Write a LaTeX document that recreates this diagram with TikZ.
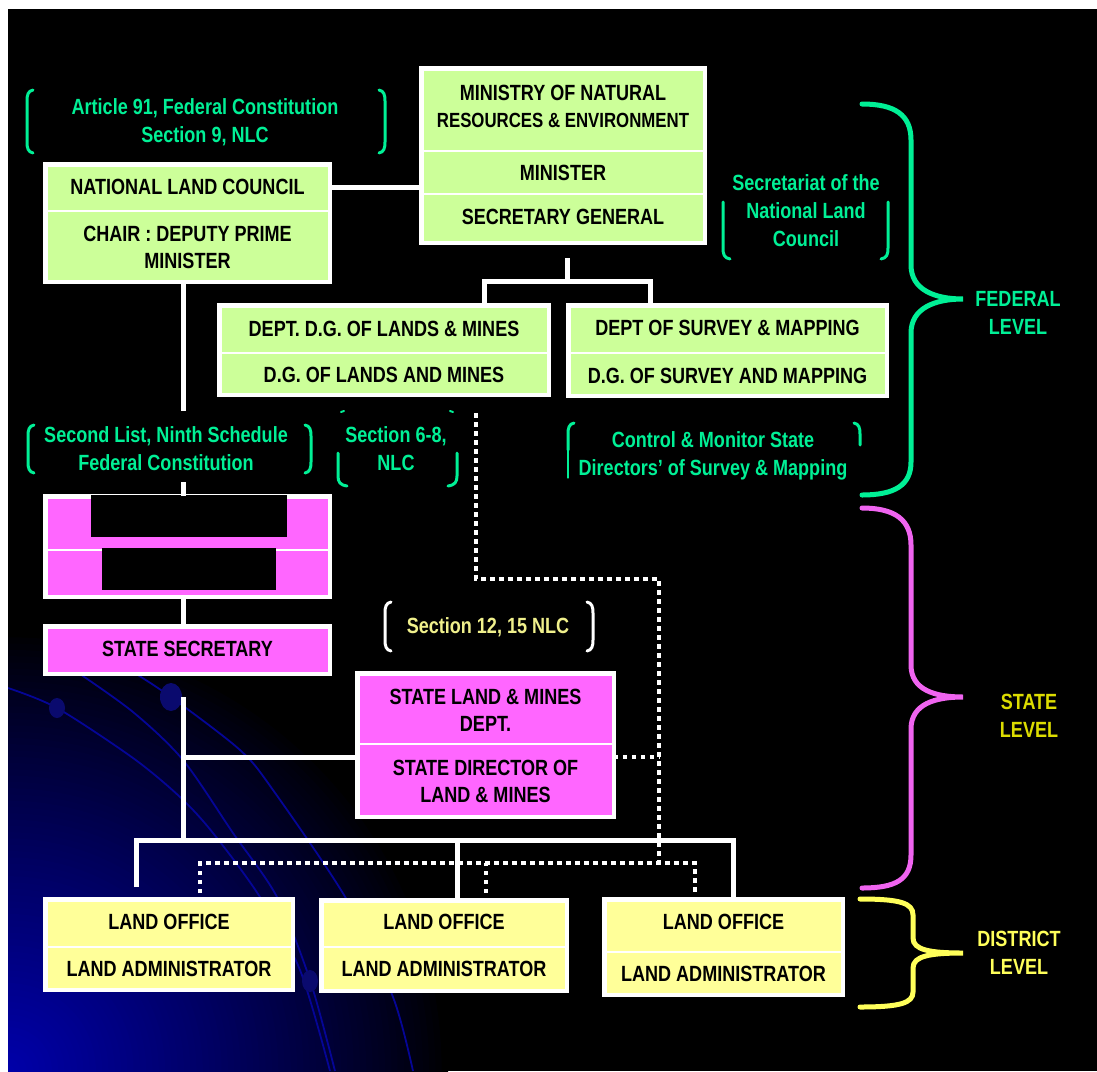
\documentclass[tikz,border=0pt]{standalone}
\usepackage{fontspec}
\newfontfamily\nar[FakeStretch=0.82]{Liberation Sans}
\definecolor{gfill}{RGB}{204,255,153}
\definecolor{pfill}{RGB}{255,102,255}
\definecolor{yfill}{RGB}{255,255,153}
\definecolor{grn}{RGB}{0,240,150}
\definecolor{pinkb}{RGB}{240,100,240}
\definecolor{styel}{RGB}{220,220,0}
\definecolor{dyel}{RGB}{255,255,90}
\definecolor{paley}{RGB}{240,240,140}
\definecolor{bA}{RGB}{0,0,170}
\definecolor{bline}{RGB}{5,5,150}
\definecolor{bdot}{RGB}{10,10,110}
\newcommand\lbrk[4]{\draw[brk,draw=#1] ({#2+6},#3) .. controls ({#2+1},{#3+1}) and (#2,{#3+5}) .. (#2,{#3+11}) -- (#2,{#4-11}) .. controls (#2,{#4-5}) and ({#2+1},{#4-1}) .. ({#2+6},#4);}
\newcommand\rbrk[4]{\draw[brk,draw=#1] ({#2-6},#3) .. controls ({#2-1},{#3+1}) and (#2,{#3+5}) .. (#2,{#3+11}) -- (#2,{#4-11}) .. controls (#2,{#4-5}) and ({#2-1},{#4-1}) .. ({#2-6},#4);}
\begin{document}
\begin{tikzpicture}[x=1pt,y=-1pt,
 box/.style={draw=white,line width=4.5pt,inner sep=0pt,outer sep=0pt},
 div/.style={draw=white,line width=2pt},
 txt/.style={font=\nar\bfseries\fontsize{22}{27}\selectfont,align=center,inner sep=0pt,text=black},
 lab/.style={font=\nar\bfseries\fontsize{22}{28}\selectfont,align=center,inner sep=0pt},
 conn/.style={draw=white,line width=5pt},
 dotc/.style={draw=white,line width=4pt,dash pattern=on 4.5pt off 4.5pt},
 brk/.style={line width=3pt,line cap=round},
 brace/.style={line width=5pt,line cap=round},
 bcurve/.style={draw=bline,line width=1.8pt}]
\useasboundingbox (0,0) rectangle (1097,1071);
\fill[white] (0,0) rectangle (1097,1071);
\fill[black] (8,9) rectangle (1097,1071);
% background decoration
\begin{scope}
\clip (8,9) rectangle (1097,1071);
\foreach \i in {0,...,69} {
  \pgfmathsetmacro\rr{440*(1-\i/70)}
  \pgfmathsetmacro\pp{100*(\i/70)^0.85}
  \fill[bA!\pp!black] (8,1071) circle[radius=\rr];
}
\draw[bcurve] plot[smooth] coordinates {(8,688) (57,708) (133,758) (180,797) (213,833) (260,897) (300,970) (330,1071)};
\draw[bcurve] plot[smooth] coordinates {(77,672) (133,712) (183,760) (233,833) (277,897) (310,980) (335,1071)};
\draw[bcurve] plot[smooth] coordinates {(133,672) (171,697) (240,750) (273,790) (347,900) (393,997) (413,1071)};
\fill[bdot] (57,708) ellipse[x radius=8,y radius=10];
\fill[bdot] (171,697) ellipse[x radius=11,y radius=14];
\fill[bdot] (310,981) ellipse[x radius=8,y radius=11];
\end{scope}
% boxes
\node[box,fill=gfill,minimum width=284.5pt,minimum height=117.5pt] (nlc) at (187.5,223) {};
\node[box,fill=gfill,minimum width=283.5pt,minimum height=174.5pt] (min) at (563,155.5) {};
\node[box,fill=gfill,minimum width=329.5pt,minimum height=89.5pt] (dlm) at (384,350) {};
\node[box,fill=gfill,minimum width=318.5pt,minimum height=90.5pt] (dsm) at (727.5,350.5) {};
\node[box,fill=pfill,minimum width=284.5pt,minimum height=100.5pt] (sa) at (187.5,546.5) {};
\node[box,fill=pfill,minimum width=284.5pt,minimum height=47.5pt] (ss) at (187.5,650) {};
\node[box,fill=pfill,minimum width=256.5pt,minimum height=143.5pt] (slm) at (485.5,745) {};
\node[box,fill=yfill,minimum width=247.5pt,minimum height=90.5pt] (lo1) at (169,944.5) {};
\node[box,fill=yfill,minimum width=245.5pt,minimum height=90.5pt] (lo2) at (444,945.5) {};
\node[box,fill=yfill,minimum width=238.5pt,minimum height=95.5pt] (lo3) at (723.5,947) {};
% dividers
\draw[div] (nlc.west |- 0,211) -- (nlc.east |- 0,211);
\draw[div] (min.west |- 0,151) -- (min.east |- 0,151);
\draw[div] (min.west |- 0,194) -- (min.east |- 0,194);
\draw[div] (dlm.west |- 0,353) -- (dlm.east |- 0,353);
\draw[div] (dsm.west |- 0,353) -- (dsm.east |- 0,353);
\draw[div] (sa.west |- 0,550) -- (sa.east |- 0,550);
\draw[div] (slm.west |- 0,744) -- (slm.east |- 0,744);
\draw[div] (lo1.west |- 0,947) -- (lo1.east |- 0,947);
\draw[div] (lo2.west |- 0,947) -- (lo2.east |- 0,947);
\draw[div] (lo3.west |- 0,952) -- (lo3.east |- 0,952);
\fill[black] (91,495) rectangle (287,537);
\fill[black] (102,548) rectangle (276,590);
% box texts
\node[txt] (nlc1) at (187.5,187) {NATIONAL LAND COUNCIL};
\node[txt] (nlc2) at (187.5,247) {CHAIR : DEPUTY PRIME\\MINISTER};
\node[txt] (min1) at (563,106) {MINISTRY OF NATURAL\\{\fontsize{20.5}{27}\selectfont RESOURCES \& ENVIRONMENT}};
\node[txt] (min2) at (563,173) {MINISTER};
\node[txt] (min3) at (563,217) {SECRETARY GENERAL};
\node[txt] (dlm1) at (384,329) {DEPT. D.G. OF LANDS \& MINES};
\node[txt] (dlm2) at (384,375) {D.G. OF LANDS AND MINES};
\node[txt] (dsm1) at (727.5,328) {DEPT OF SURVEY \& MAPPING};
\node[txt] (dsm2) at (727.5,376) {D.G. OF SURVEY AND MAPPING};
\node[txt] (ss1) at (187.5,649) {STATE SECRETARY};
\node[txt] (slm1) at (485.5,710) {STATE LAND \& MINES\\DEPT.};
\node[txt] (slm2) at (485.5,781) {STATE DIRECTOR OF\\LAND \& MINES};
\node[txt] (lo1a) at (169,922) {LAND OFFICE};
\node[txt] (lo1b) at (169,969) {LAND ADMINISTRATOR};
\node[txt] (lo2a) at (444,922) {LAND OFFICE};
\node[txt] (lo2b) at (444,969) {LAND ADMINISTRATOR};
\node[txt] (lo3a) at (723.5,922) {LAND OFFICE};
\node[txt] (lo3b) at (723.5,974) {LAND ADMINISTRATOR};
% labels
\node[lab,text=grn] (lab1) at (205,122) {Article 91, Federal Constitution\\Section 9, NLC};
\node[lab,text=grn] (lab2) at (806,211) {Secretariat of the\\National Land\\Council};
\node[lab,text=grn] (lab3) at (166,449) {Second List, Ninth Schedule\\Federal Constitution};
\node[lab,text=grn] (lab4) at (396,449) {Section 6-8,\\NLC};
\node[lab,text=grn] (lab5) at (713,456) {Control \& Monitor State\\Directors’ of Survey \& Mapping};
\node[lab,text=paley] (lab6) at (488,627) {Section 12, 15 NLC};
\node[lab,text=grn] (fed) at (1018,313) {FEDERAL\\LEVEL};
\node[lab,text=styel] (stl) at (1029,716) {STATE\\LEVEL};
\node[lab,text=dyel] (dis) at (1019,953) {DISTRICT\\LEVEL};
% brackets
\lbrk{grn}{27}{90}{153}\rbrk{grn}{385}{90}{153}
\lbrk{grn}{28}{425}{473}\rbrk{grn}{311}{425}{473}
\lbrk{white}{385}{602}{651}\rbrk{white}{593}{602}{651}
\draw[brk,draw=grn] (723,202) -- (723,248) .. controls (723,254) and (724,258) .. (730,259);
\draw[brk,draw=grn] (888,202) -- (888,248) .. controls (888,254) and (887,258) .. (881,259);
\draw[brk,draw=grn] (338,453) -- (338,476) .. controls (338,482) and (340,485) .. (347,486);
\draw[brk,draw=grn] (457,453) -- (457,476) .. controls (457,482) and (455,485) .. (448,486);
\draw[brk,draw=grn,line width=2pt] (344,411) -- (341,412);
\draw[brk,draw=grn,line width=2pt] (450,411) -- (453,412);
\draw[brk,draw=grn] (574,423) .. controls (569,424) and (568,428) .. (568,434) -- (568,450);
\draw[brk,draw=grn,line width=1.2pt] (568,450) -- (568,478);
\draw[brk,draw=grn] (854,423) .. controls (859,424) and (860,428) .. (860,434) -- (860,445);
% braces
\draw[brace,draw=grn] (862,104) .. controls (895,104) and (911,115) .. (911,140) -- (911,265) .. controls (911,290) and (935,299) .. (963,299) .. controls (935,299) and (911,308) .. (911,333) -- (911,462) .. controls (911,485) and (895,495) .. (862,495);
\draw[brace,draw=pinkb] (862,508) .. controls (895,508) and (911,520) .. (911,545) -- (911,665) .. controls (911,690) and (935,697) .. (963,697) .. controls (935,697) and (911,704) .. (911,729) -- (911,855) .. controls (911,880) and (895,888) .. (862,888);
\draw[brace,draw=dyel] (860,899) .. controls (900,899) and (913,903) .. (913,915) -- (913,938) .. controls (913,950) and (930,953) .. (963,953) .. controls (930,953) and (913,956) .. (913,968) -- (913,992) .. controls (913,1003) and (900,1007) .. (860,1007);
% connectors
\coordinate (mtop) at (567,258);
\coordinate (mj) at (567,281);
\coordinate (c1) at (183,411);
\coordinate (c2) at (183,482);
\coordinate (c3) at (183,697);
\coordinate (c4) at (183,840);
\coordinate (c5) at (183,757);
\coordinate (c6) at (136,887);
\draw[conn] (nlc.east |- nlc1) -- (min.west |- nlc1);
\draw[conn] (mtop) -- (mj);
\draw[conn] (dlm.north -| 484,0) |- (mj) -| (dsm.north -| 650,0);
\draw[conn] (nlc.south -| c1) -- (c1);
\draw[conn] (c2) -- (sa.north -| c2);
\draw[conn] (sa.south -| c2) -- (ss.north -| c2);
\draw[conn] (c3) -- (c4);
\draw[conn] (c5) -- (slm.west |- c5);
\draw[conn] (c6) |- (c4) -| (lo3.north -| 733,0);
\draw[conn] (lo2.north -| 457,0) -- (c4 -| 457,0);
% dotted connectors
\coordinate (d1) at (476,413);
\coordinate (d2) at (659,579);
\coordinate (d3) at (659,863);
\coordinate (dl1) at (200,893);
\coordinate (dl2) at (486,893);
\coordinate (dl3) at (695,893);
\draw[dotc] (d1) |- (d2) -- (d3);
\draw[dotc] (slm.east |- c5) -- (c5 -| d2);
\draw[dotc] (dl1) |- (d3 -| dl3) -- (dl3);
\draw[dotc] (dl2) -- (dl2 |- d3);
\end{tikzpicture}
\end{document}
